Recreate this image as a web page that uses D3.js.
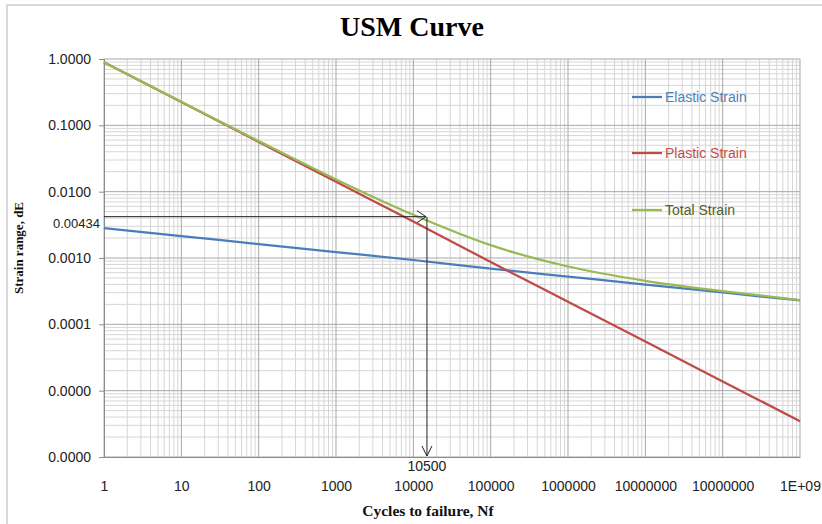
<!DOCTYPE html>
<html>
<head>
<meta charset="utf-8">
<style>
  body { margin: 0; background: #fff; }
  svg { display: block; }
  .tick-label { font-family: "Liberation Sans", Arial, sans-serif; font-size: 14px; fill: #222; }
  .mark-label { font-family: "Liberation Sans", Arial, sans-serif; font-size: 13px; fill: #222; }
  .axis-title { font-family: "Liberation Serif", "Times New Roman", serif; font-weight: bold; fill: #111; }
  .legend { font-family: "Liberation Sans", Arial, sans-serif; font-size: 14px; }
</style>
</head>
<body>
<svg id="chart" width="822" height="524"></svg>
<script src="https://cdn.jsdelivr.net/npm/d3@7"></script>
<script>
// values, one point per decade of cycles
var cycles  = [1, 10, 100, 1000, 10000, 100000, 1000000, 10000000, 100000000, 1000000000];
var elastic = [0.00282, 0.00214, 0.00162, 0.00123, 0.000933, 0.000692, 0.000525, 0.000398, 0.000302, 0.000229];
var plastic = [0.891, 0.224, 0.0562, 0.0141, 0.00355, 0.000871, 0.000219, 0.0000550, 0.0000138, 0.00000347];
var total   = [0.894, 0.226, 0.0578, 0.0153, 0.00448, 0.00156, 0.000744, 0.000453, 0.000316, 0.000232];

var xTickLabels = ["1", "10", "100", "1000", "10000", "100000", "1000000", "10000000", "10000000", "1E+09"];
var yTicks      = [1, 0.1, 0.01, 0.001, 0.0001, 0.00001, 0.000001];
var yTickLabels = ["1.0000", "0.1000", "0.0100", "0.0010", "0.0001", "0.0000", "0.0000"];

var seriesNames  = ["Elastic Strain", "Plastic Strain", "Total Strain"];
var seriesColors = ["#4a7ebb", "#be4b48", "#98b954"];
var legendText   = ["#4f81bd", "#c0504d", "#4f6228"];

// the marked point (drawn where the arrows sit in the picture)
var markX = 15000, markXLabel = "10500";
var markY = 0.0042, markYLabel = "0.00434";

var svg = d3.select("#chart");

var x = d3.scaleLog().domain([1, 1e9]).range([104, 800]);
var y = d3.scaleLog().domain([1e-6, 1]).range([457, 59]);

// chart frame
svg.append("rect")
  .attr("x", 7).attr("y", 5).attr("width", 840).attr("height", 540)
  .attr("fill", "none").attr("stroke", "#d9d9d9").attr("stroke-width", 2);

svg.append("text")
  .attr("x", 412).attr("y", 36)
  .attr("text-anchor", "middle")
  .style("font-family", "'Liberation Serif', 'Times New Roman', serif")
  .style("font-size", "28px").style("font-weight", "bold")
  .text("USM Curve");

// grid
var minorX = [], minorY = [];
for (var e = 0; e < 9; e++) for (var k = 2; k <= 9; k++) minorX.push(k * Math.pow(10, e));
for (var e2 = -6; e2 < 0; e2++) for (var k2 = 2; k2 <= 9; k2++) minorY.push(k2 * Math.pow(10, e2));

var grid = svg.append("g");
grid.selectAll(".mx").data(minorX).enter().append("line")
  .attr("x1", x).attr("x2", x).attr("y1", y(1)).attr("y2", y(1e-6))
  .attr("stroke", "#d6d6d6").attr("stroke-width", 1);
grid.selectAll(".my").data(minorY).enter().append("line")
  .attr("x1", x(1)).attr("x2", x(1e9)).attr("y1", y).attr("y2", y)
  .attr("stroke", "#d6d6d6").attr("stroke-width", 1);
grid.selectAll(".Mx").data(cycles).enter().append("line")
  .attr("x1", x).attr("x2", x).attr("y1", y(1)).attr("y2", y(1e-6))
  .attr("stroke", "#a8a8a8").attr("stroke-width", 1);
grid.selectAll(".My").data(yTicks).enter().append("line")
  .attr("x1", x(1)).attr("x2", x(1e9)).attr("y1", y).attr("y2", y)
  .attr("stroke", "#a8a8a8").attr("stroke-width", 1);

// axes
var xAxis = svg.append("g")
  .attr("transform", "translate(0," + y(1e-6) + ")")
  .call(d3.axisBottom(x).tickValues(cycles).tickSize(0).tickPadding(24)
    .tickFormat(function (d, i) { return xTickLabels[i]; }));
var yAxis = svg.append("g")
  .attr("transform", "translate(" + x(1) + ",0)")
  .call(d3.axisLeft(y).tickValues(yTicks).tickSize(5).tickPadding(8)
    .tickFormat(function (d, i) { return yTickLabels[i]; }));
[xAxis, yAxis].forEach(function (a) {
  a.select(".domain").attr("stroke", "#8c8c8c");
  a.selectAll(".tick line").attr("stroke", "#8c8c8c");
  a.selectAll("text").attr("class", "tick-label").attr("fill", null);
  a.attr("font-family", null).attr("font-size", null);
});

svg.append("text").attr("class", "axis-title")
  .attr("transform", "translate(23,248) rotate(-90)")
  .attr("text-anchor", "middle")
  .style("font-size", "13px")
  .text("Strain range, dE");
svg.append("text").attr("class", "axis-title")
  .attr("x", 428).attr("y", 516)
  .attr("text-anchor", "middle")
  .style("font-size", "15.5px")
  .text("Cycles to failure, Nf");

// curves
var line = d3.line()
  .x(function (d) { return x(d[0]); })
  .y(function (d) { return y(d[1]); })
  .curve(d3.curveMonotoneX);

[elastic, plastic, total].forEach(function (vals, i) {
  svg.append("path")
    .datum(cycles.map(function (c, j) { return [c, vals[j]]; }))
    .attr("fill", "none")
    .attr("stroke", seriesColors[i])
    .attr("stroke-width", 2.25)
    .attr("d", line);
});

// annotation arrows
var ann = svg.append("g").attr("stroke", "#222").attr("stroke-width", 1).attr("fill", "none");
ann.append("line")
  .attr("x1", x(1)).attr("x2", x(markX) - 1)
  .attr("y1", y(markY)).attr("y2", y(markY));
ann.append("path")
  .attr("d", "M" + (x(markX) - 10) + "," + (y(markY) - 6) + "L" + (x(markX) - 1) + "," + y(markY) +
             "L" + (x(markX) - 10) + "," + (y(markY) + 6));
ann.append("line")
  .attr("x1", x(markX)).attr("x2", x(markX))
  .attr("y1", y(markY)).attr("y2", y(1e-6) - 1);
ann.append("path")
  .attr("d", "M" + (x(markX) - 5) + "," + (y(1e-6) - 11) + "L" + x(markX) + "," + (y(1e-6) - 1) +
             "L" + (x(markX) + 5) + "," + (y(1e-6) - 11));

svg.append("text").attr("class", "tick-label")
  .attr("x", x(markX)).attr("y", y(1e-6) + 14)
  .attr("text-anchor", "middle")
  .text(markXLabel);
svg.append("text").attr("class", "mark-label")
  .attr("x", x(1) - 4).attr("y", y(markY) + 11)
  .attr("text-anchor", "end")
  .text(markYLabel);

// legend
var legendY = [97, 153, 210];
var lg = svg.append("g");
seriesNames.forEach(function (name, i) {
  lg.append("line")
    .attr("x1", 632).attr("x2", 662)
    .attr("y1", legendY[i]).attr("y2", legendY[i])
    .attr("stroke", seriesColors[i]).attr("stroke-width", 2.25);
  lg.append("text").attr("class", "legend")
    .attr("x", 665).attr("y", legendY[i] + 5)
    .attr("fill", legendText[i])
    .text(name);
});
</script>
</body>
</html>
